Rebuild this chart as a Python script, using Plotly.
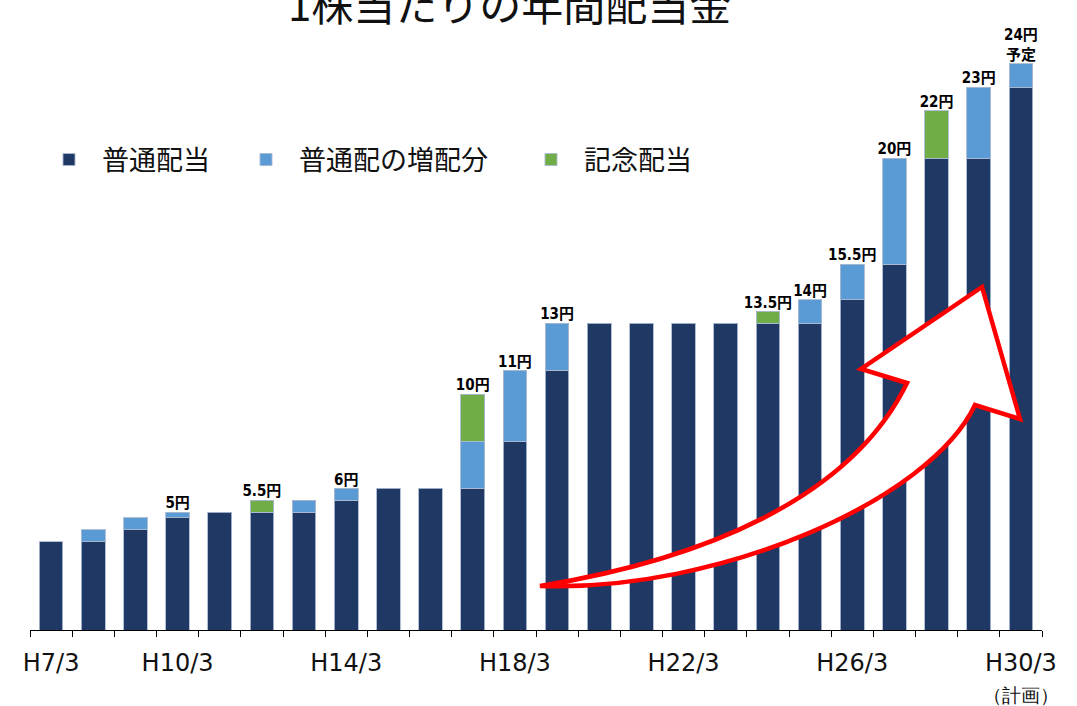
import plotly.graph_objects as go

# ---- data (円 per share) ----
categories = ["H7/3", "H8/3", "H9/3", "H10/3", "H11/3", "H12/3", "H13/3", "H14/3",
              "H15/3", "H16/3", "H17/3", "H18/3", "H19/3", "H20/3", "H21/3", "H22/3",
              "H23/3", "H24/3", "H25/3", "H26/3", "H27/3", "H28/3", "H29/3", "H30/3"]
ordinary = [3.75, 3.75, 4.25, 4.75, 5, 5, 5, 5.5, 6, 6, 6, 8, 11, 13, 13, 13, 13, 13, 13, 14,
            15.5, 20, 20, 23]
increase = [None, 0.5, 0.5, 0.25, None, None, 0.5, 0.5, None, None, 2, 3, 2, None, None, None,
            None, None, 1, 1.5, 4.5, None, 3, 1]
commemorative = [None, None, None, None, None, 0.5, None, None, None, None, 2, None, None, None,
                 None, None, None, 0.5, None, None, None, 2, None, None]
value_labels = ["", "", "", "5円", "", "5.5円", "", "6円", "", "", "10円", "11円", "13円", "",
                "", "", "", "13.5円", "14円", "15.5円", "20円", "22円", "23円", "24円<br>予定"]
tick_labels = ["H7/3", "", "", "H10/3", "", "", "", "H14/3", "", "", "", "H18/3", "", "", "",
               "H22/3", "", "", "", "H26/3", "", "", "",
               "H30/3<br><span style='font-size:19px'>（計画）</span>"]
series_names = ["普通配当", "普通配の増配分", "記念配当"]
title_text = "1株当たりの年間配当金"

totals = [sum(v for v in vals if v is not None)
          for vals in zip(ordinary, increase, commemorative)]

# ---- geometry ----
W, H = 1077, 706
ML, MR, MT, MB = 30, 35, 40, 76
PW, PH = W - ML - MR, H - MT - MB


def px(p):
    return (p - ML) / PW


def py(p):
    return (H - MB - p) / PH


colors = ["#203864", "#5B9BD5", "#70AD47"]
edge = dict(color="rgba(170,185,210,0.9)", width=1)

fig = go.Figure()
for name, vals, col, lg in zip(series_names, [ordinary, increase, commemorative], colors,
                               ["legend", "legend2", "legend3"]):
    fig.add_trace(go.Bar(x=categories, y=vals, name=name, marker=dict(color=col, line=edge),
                         legend=lg))

fig.add_trace(go.Scatter(
    x=categories, y=totals, mode="text", text=value_labels, textposition="top center",
    textfont=dict(family="DejaVu Sans Condensed, Liberation Sans Narrow, Noto Sans CJK JP",
                  size=15, color="black", weight="bold"),
    showlegend=False, cliponaxis=False, hoverinfo="skip"))

# red curved arrow (decoration)
pts = "M {a} C {b} {c} {d} L {e} L {f} L {g} L {h} C {i} {j} {a} Z"


def P(x, y):
    return f"{px(x):.5f},{py(y):.5f}"


path = pts.format(a=P(540, 586), b=P(700, 560), c=P(850, 500), d=P(907, 383),
                  e=P(861, 369), f=P(982, 287), g=P(1020, 419), h=P(975, 405),
                  i=P(930, 500), j=P(720, 592))
fig.add_shape(type="path", path=path, xref="paper", yref="paper",
              line=dict(color="#FF0000", width=4.5), fillcolor="white", layer="above")

fig.add_annotation(text=title_text, xref="paper", yref="paper", x=px(509), y=py(3),
                   xanchor="center", yanchor="middle", showarrow=False,
                   font=dict(family="Noto Sans CJK JP", size=42, color="#111111"))

leg_common = dict(orientation="h", yanchor="middle", xanchor="left", y=py(160),
                  bgcolor="rgba(0,0,0,0)", itemwidth=56,
                  font=dict(family="Noto Sans CJK JP", size=27, color="#111111"))

fig.update_layout(
    width=W, height=H, barmode="stack", bargap=0.44,
    margin=dict(l=ML, r=MR, t=MT, b=MB, autoexpand=False),
    plot_bgcolor="white", paper_bgcolor="white",
    legend=dict(x=px(36), **leg_common),
    legend2=dict(x=px(233), **leg_common),
    legend3=dict(x=px(518), **leg_common),
    xaxis=dict(type="category", tickmode="array", tickvals=categories, ticktext=tick_labels,
               range=[-0.5, len(categories) - 0.5],
               tickson="boundaries", ticks="outside", ticklen=6, tickcolor="black",
               showline=True, linecolor="black", linewidth=1, showgrid=False,
               ticklabelstandoff=11, tickangle=0, automargin=False,
               tickfont=dict(family="DejaVu Sans", size=24, color="#111111")),
    yaxis=dict(range=[0, PH / 23.6], visible=False, showgrid=False, zeroline=False,
               automargin=False),
    showlegend=True,
)

fig.write_html("out.html", config={"displayModeBar": False},
               post_script="document.body.style.margin='0';document.body.style.overflow='hidden';")
